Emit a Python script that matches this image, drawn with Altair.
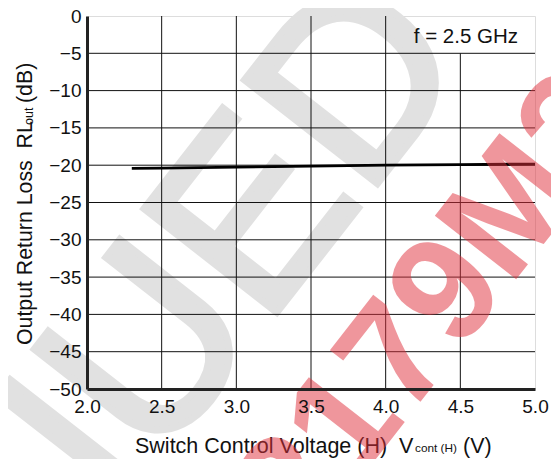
import altair as alt
import pandas as pd

# ---- data ----
volt = [2.3, 2.5, 3.0, 3.5, 4.0, 4.5, 5.0]
rl_out = [-20.42, -20.38, -20.25, -20.12, -20.0, -19.92, -19.85]

x_ticks = [2.0, 2.5, 3.0, 3.5, 4.0, 4.5, 5.0]
y_ticks = [0, -5, -10, -15, -20, -25, -30, -35, -40, -45, -50]

# vertical grid lines (top end lowered at 4.5 where the note box sits)
vgrid_x = [2.5, 3.0, 3.5, 4.0, 4.5]
vgrid_top = [0, 0, 0, 0, -5]
hgrid_y = [-5, -10, -15, -20, -25, -30, -35, -40, -45]

FONT = "Liberation Sans"
NB = "\u00a0"
X_DOM = [2.0, 5.0]
Y_DOM = [-50, 0]

xs = alt.Scale(domain=X_DOM, nice=False, zero=False)
ys = alt.Scale(domain=Y_DOM, nice=False, zero=False)

X_AX = alt.Axis(values=x_ticks, format=".1f", grid=False, ticks=False,
                domainColor="#222222", domainWidth=3, labelFont=FONT,
                labelFontSize=19, labelColor="#111111", labelPadding=8,
                labelOverlap=False, labelFlush=False, title=None, zindex=1)
Y_AX = alt.Axis(values=y_ticks, format="d", grid=False, ticks=False,
                domainColor="#222222", domainWidth=3, labelFont=FONT,
                labelFontSize=19, labelColor="#111111", labelPadding=6,
                labelOverlap=False, labelFlush=False, title=None, zindex=1)

line_df = pd.DataFrame({"v": volt, "rl": rl_out})
vg_df = pd.DataFrame({"x": vgrid_x, "top": vgrid_top, "bot": [-50] * len(vgrid_x)})
hg_df = pd.DataFrame({"y": hgrid_y, "x0": [X_DOM[0]] * len(hgrid_y), "x1": [X_DOM[1]] * len(hgrid_y)})
one = alt.Data(values=[{"a": 1}])

# watermark (under)
wm_gray = alt.Chart(one).mark_text(
    text="CONTINUED", font=FONT, fontSize=245, angle=308,
    align="right", baseline="alphabetic", color="#e1e1e1",
    stroke="#e1e1e1", strokeWidth=7
).encode(x=alt.value(387), y=alt.value(44))

vgrid = alt.Chart(vg_df).mark_rule(color="#111111", strokeWidth=1).encode(
    x=alt.X("x:Q", scale=xs, axis=X_AX),
    y=alt.Y("top:Q", scale=ys, axis=Y_AX),
    y2="bot:Q",
)

hgrid = alt.Chart(hg_df).mark_rule(color="#111111", strokeWidth=1).encode(
    x=alt.X("x0:Q", scale=xs, axis=X_AX), x2="x1:Q",
    y=alt.Y("y:Q", scale=ys, axis=Y_AX)
)

curve = alt.Chart(line_df).mark_line(color="#000000", strokeWidth=2.8).encode(
    x=alt.X("v:Q", scale=xs, axis=X_AX), y=alt.Y("rl:Q", scale=ys, axis=Y_AX)
)

note = alt.Chart(one).mark_text(
    text="f = 2.5 GHz", font=FONT, fontSize=20.5, align="right", baseline="alphabetic",
    color="#111111"
).encode(x=alt.value(431), y=alt.value(27))

# x title pieces
xt_main = alt.Chart(one).mark_text(
    text="Switch Control Voltage (H)" + NB + NB + "V", font=FONT, fontSize=21.5,
    align="left", baseline="alphabetic", color="#111111"
).encode(x=alt.value(48), y=alt.value(437))
xt_sub = alt.Chart(one).mark_text(
    text="cont (H)", font=FONT, fontSize=11.8, align="left",
    baseline="alphabetic", color="#111111"
).encode(x=alt.value(328), y=alt.value(436))
xt_end = alt.Chart(one).mark_text(
    text="(V)", font=FONT, fontSize=21.5, align="left",
    baseline="alphabetic", color="#111111"
).encode(x=alt.value(376), y=alt.value(437))

# y title pieces (rotated)
yt_main = alt.Chart(one).mark_text(
    text="Output Return Loss" + NB + NB + "RL", font=FONT, fontSize=21.3, align="left",
    angle=270, baseline="alphabetic", color="#111111"
).encode(x=alt.value(-55), y=alt.value(329))
yt_sub = alt.Chart(one).mark_text(
    text="out", font=FONT, fontSize=12.5, align="left", angle=270,
    baseline="alphabetic", color="#111111"
).encode(x=alt.value(-54), y=alt.value(109))
yt_end = alt.Chart(one).mark_text(
    text="(dB)", font=FONT, fontSize=21.3, align="left", angle=270,
    baseline="alphabetic", color="#111111"
).encode(x=alt.value(-55), y=alt.value(87))

# watermark (over, translucent)
wm_red = alt.Chart(one).mark_text(
    text="2179M2", font=FONT, fontWeight="bold", fontSize=150, angle=308,
    align="center", baseline="middle", color="#e0303c", opacity=0.5
).encode(x=alt.value(349), y=alt.value(293))

chart = alt.layer(
    wm_gray, vgrid, hgrid, curve, note, xt_main, xt_sub, xt_end,
    yt_main, yt_sub, yt_end, wm_red
).properties(
    width=448, height=373,
    autosize=alt.AutoSizeParams(type="none"),
    padding={"left": 79, "top": 8, "right": 16, "bottom": 70},
).configure_view(
    stroke="#111111", strokeWidth=2.5
).configure(background="white")

chart.save("out.html", embed_options={"renderer": "svg", "actions": False})
